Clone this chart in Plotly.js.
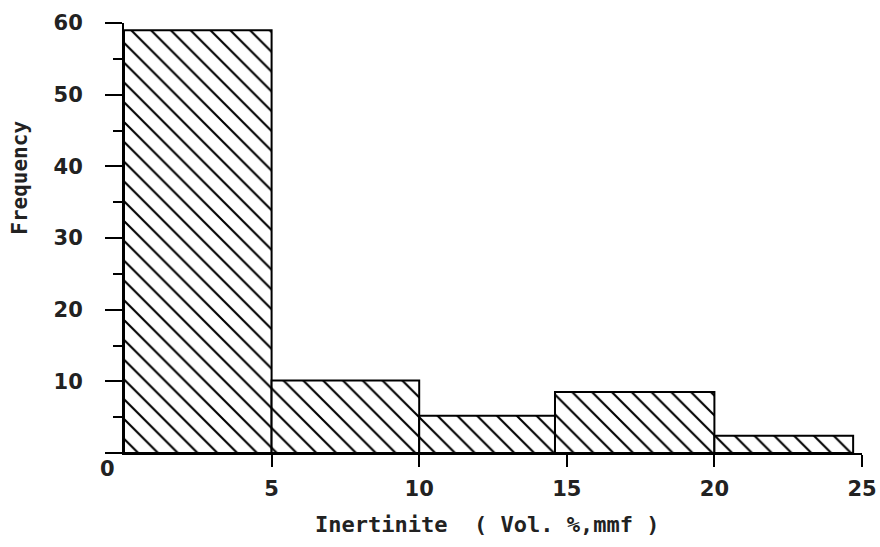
<!DOCTYPE html>
<html>
<head>
<meta charset="utf-8">
<script src="https://cdn.plot.ly/plotly-3.0.1.min.js"></script>
<style>html,body{margin:0;padding:0;background:#fff;}#chart{width:880px;height:547px;}</style>
</head>
<body>
<div id="chart"></div>
<script>
// Histogram bins (Inertinite, Vol.% mmf) and frequencies
const binStart = [0, 5, 10, 14.6, 20];
const binEnd   = [5, 10, 14.6, 20, 24.7];
const frequency = [59.0, 10.1, 5.2, 8.5, 2.4];
const xTickVals = [5, 10, 15, 20, 25];
const yTickVals = [0, 10, 20, 30, 40, 50, 60];
const yTickText = ['', '10', '20', '30', '40', '50', '60'];
const xTitle = 'Inertinite  ( Vol. %,mmf )';
const yTitle = 'Frequency';

const centers = binStart.map((s, i) => (s + binEnd[i]) / 2);
const widths = binStart.map((s, i) => binEnd[i] - s);

const font = 'DejaVu Sans, sans-serif';
const mono = 'DejaVu Sans Mono, monospace';
const txt = {family: font, size: 21, color: '#222', weight: 'bold'};

const trace = {
  type: 'bar',
  x: centers,
  y: frequency,
  width: widths,
  marker: {
    color: '#ffffff',
    line: {color: '#000', width: 2},
    pattern: {shape: '\\', size: 14, solidity: 0.15, fgcolor: '#000', bgcolor: '#fff', fillmode: 'replace'}
  },
  hoverinfo: 'x+y'
};

const layout = {
  width: 880, height: 547,
  margin: {l: 124, r: 18, t: 23, b: 94},
  paper_bgcolor: '#fff', plot_bgcolor: '#fff',
  showlegend: false,
  bargap: 0,
  font: {family: font, size: 21, color: '#222'},
  xaxis: {
    range: [0, 25],
    tickvals: xTickVals,
    ticks: 'outside', ticklen: 12, tickwidth: 2, tickcolor: '#000',
    showline: true, linecolor: '#000', linewidth: 2,
    showgrid: false, zeroline: false,
    ticklabelstandoff: 4,
    tickfont: txt
  },
  yaxis: {
    range: [0, 60],
    tickvals: yTickVals,
    ticktext: yTickText,
    ticks: 'outside', ticklen: 17, tickwidth: 2, tickcolor: '#000',
    minor: {dtick: 5, tick0: 0, ticks: 'outside', ticklen: 9, tickwidth: 2, tickcolor: '#000'},
    showline: true, linecolor: '#000', linewidth: 2,
    showgrid: false, zeroline: false,
    ticklabelstandoff: 18,
    tickfont: txt
  },
  annotations: [
    {text: '0', xref: 'paper', yref: 'paper', x: -0.023, y: -0.037, showarrow: false,
     xanchor: 'center', yanchor: 'middle', font: txt},
    {text: yTitle, xref: 'paper', yref: 'paper', x: -0.141, y: 0.64, textangle: -90, showarrow: false,
     xanchor: 'center', yanchor: 'middle', font: {family: mono, size: 21, color: '#222', weight: 'bold'}},
    {text: xTitle, xref: 'paper', yref: 'paper', x: 0.492, y: -0.167, showarrow: false,
     xanchor: 'center', yanchor: 'middle', font: {family: mono, size: 22, color: '#222', weight: 'bold'}}
  ]
};

Plotly.newPlot('chart', [trace], layout, {displayModeBar: false, staticPlot: true});
</script>
</body>
</html>
